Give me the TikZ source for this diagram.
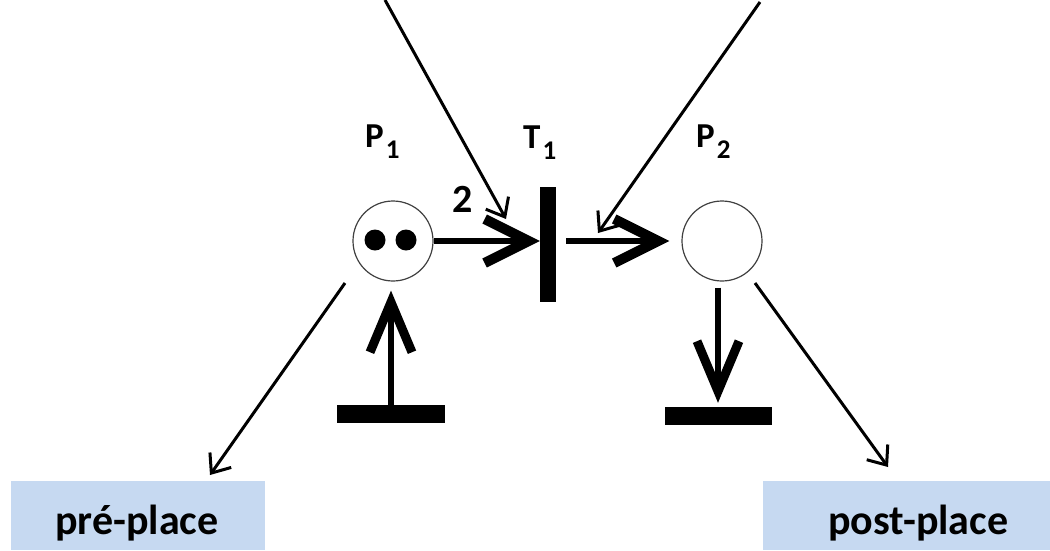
\documentclass[tikz,border=0pt]{standalone}
\usepackage{fontspec}
\setmainfont{Carlito}
\usetikzlibrary{arrows.meta}
\definecolor{boxblue}{RGB}{198,217,241}
\newcommand{\pnlabel}[2]{\fontsize{35}{38}\selectfont\bfseries #1\kern2pt\raisebox{-11pt}{\fontsize{27}{30}\selectfont #2}}
\tikzset{
  place/.style={circle, draw=black!75, line width=1.2pt, minimum size=80pt, inner sep=0pt},
  token/.style={circle, fill=black, minimum size=21pt, inner sep=0pt},
  bar/.style={rectangle, fill=black, inner sep=0pt},
  lbl/.style={anchor=base west, inner sep=0pt},
  thickarc/.style={line width=6pt, -{Straight Barb[length=44pt, width=44pt, line width=10pt]}},
  vertarc/.style={line width=5.5pt, -{Straight Barb[length=50pt, width=42pt, line width=9pt]}},
  note/.style={line width=3pt, -{Straight Barb[length=16pt, width=26pt, line width=3pt]}},
  namebox/.style={rectangle, fill=boxblue, inner sep=0pt}
}
\begin{document}
\begin{tikzpicture}[x=1pt, y=-1pt]
\useasboundingbox[fill=white] (0,0) rectangle (1050,550);
% places and transitions
\node[place] (p1) at (393,241) {};
\node[place] (p2) at (722,241) {};
\node[token] (tk1) at (375,240) {};
\node[token] (tk2) at (406,240) {};
\node[bar, minimum width=16pt, minimum height=115pt] (t1) at (548,244.5) {};
\node[bar, minimum width=108pt, minimum height=18pt] (b1) at (391,414) {};
\node[bar, minimum width=107pt, minimum height=18pt] (b2) at (718,416) {};
% labels
\node[lbl] (lp1) at (365,147) {\pnlabel{P}{1}};
\node[lbl] (lt1) at (523,148) {\pnlabel{T}{1}};
\node[lbl] (lp2) at (696,147) {\pnlabel{P}{2}};
\node[lbl] (lw) at (452,212) {\fontsize{40}{42}\selectfont\bfseries 2};
% arcs
\draw[thickarc] (p1.east) -- (t1.west |- p1.east);
\draw[thickarc, shorten <=10pt, shorten >=12pt] (t1.east |- p2.west) -- (p2.west);
\draw[vertarc, shorten >=9pt] (b1.north) -- (b1.north |- p1.south);
\draw[vertarc, shorten <=6pt, shorten >=4pt] (b2.north |- p2.south) -- (b2.north);
% boxes
\node[namebox, minimum width=254pt, minimum height=69pt] (pre) at (138,515.5) {};
\node[lbl] (pretxt) at (55,534) {\fontsize{42}{46}\selectfont\bfseries pré-place};
\node[namebox, minimum width=287pt, minimum height=69pt] (post) at (906.5,515.5) {};
\node[lbl] (posttxt) at (828,534) {\fontsize{42}{46}\selectfont\bfseries post-place};
% annotation arrows
\coordinate (a1s) at (385,0);
\coordinate (a1e) at (506,219);
\coordinate (a2s) at (760,2);
\coordinate (a2e) at (598,233);
\coordinate (a3s) at (345,283);
\coordinate (a3e) at (210,475);
\coordinate (a4s) at (755,283);
\coordinate (a4e) at (888,467);
\draw[note] (a1s) -- (a1e);
\draw[note] (a2s) -- (a2e);
\draw[note] (a3s) -- (a3e);
\draw[note] (a4s) -- (a4e);
\end{tikzpicture}
\end{document}
